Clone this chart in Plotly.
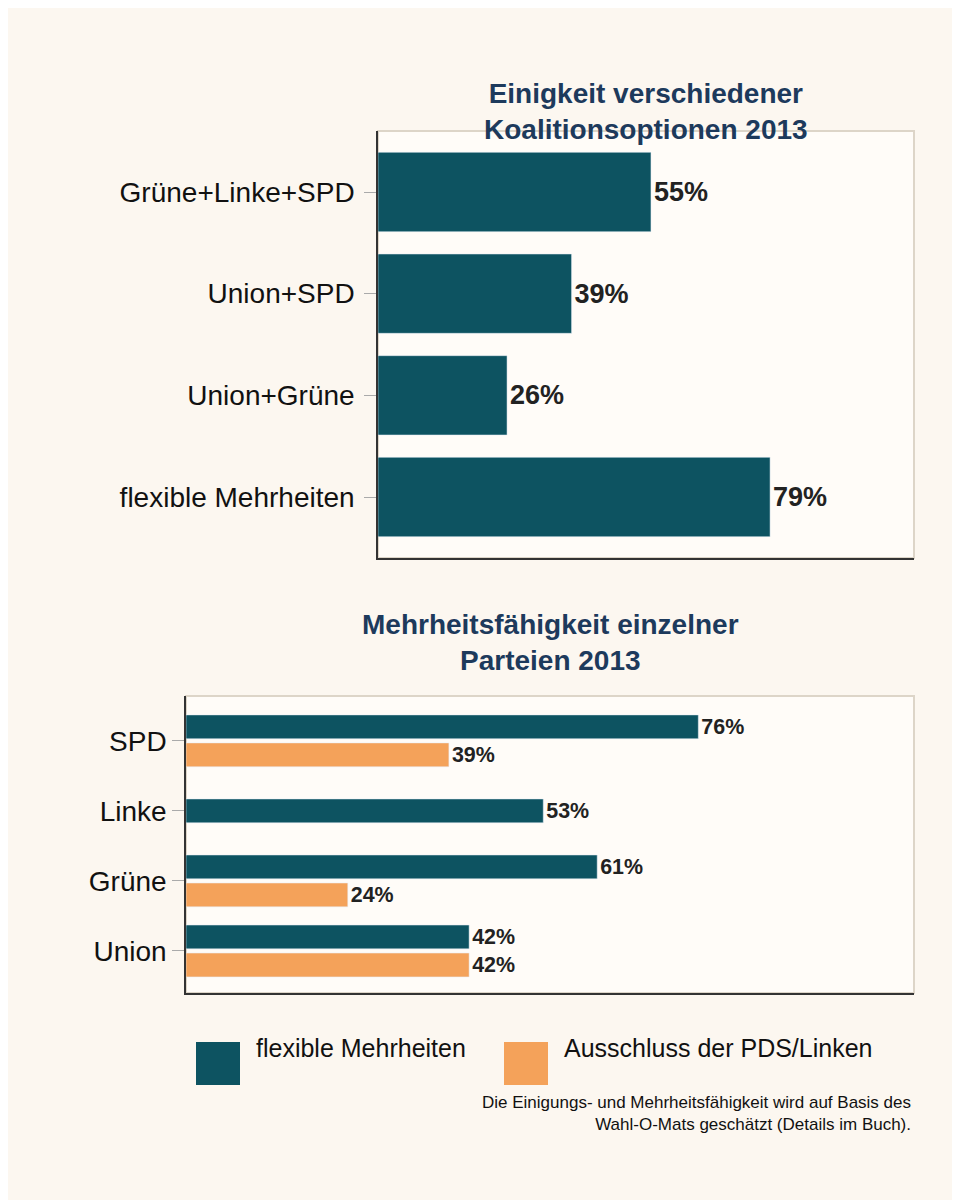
import plotly.graph_objects as go

top_cats = ["Grüne+Linke+SPD", "Union+SPD", "Union+Grüne", "flexible Mehrheiten"]
top_vals = [55, 39, 26, 79]

parties = ["Union", "Grüne", "Linke", "SPD"]
flex_vals = [42, 61, 53, 76]
excl_vals = [42, 24, None, 39]

TEAL = "#0d5361"
ORANGE = "#f4a25a"
BG = "#fcf7f0"
PLOT_BG = "#fffcf8"
FONT = "Liberation Sans, Arial, sans-serif"

fig = go.Figure()

fig.add_trace(go.Bar(
    x=top_vals, y=top_cats, orientation="h", marker_color=TEAL, width=0.78,
    text=[f"{v}%" for v in top_vals], textposition="outside",
    textfont=dict(size=27, color="#222", family=FONT, weight="bold"),
    cliponaxis=False, xaxis="x", yaxis="y", showlegend=False))

# grouped positions for bottom chart
off = 0.2
flex_y, excl_y, excl_x = [], [], []
for i, (f, e) in enumerate(zip(flex_vals, excl_vals)):
    if e is None:
        flex_y.append(i)
    else:
        flex_y.append(i + off)
        excl_y.append(i - off)
        excl_x.append(e)

fig.add_trace(go.Bar(
    x=flex_vals, y=flex_y, orientation="h", marker_color=TEAL, width=0.34,
    text=[f"{v}%" for v in flex_vals], textposition="outside",
    textfont=dict(size=27, color="#222", family=FONT, weight="bold"),
    cliponaxis=False, xaxis="x2", yaxis="y2", showlegend=False))
fig.add_trace(go.Bar(
    x=excl_x, y=excl_y, orientation="h", marker_color=ORANGE, width=0.34,
    text=[f"{v}%" for v in excl_x], textposition="outside",
    textfont=dict(size=27, color="#222", family=FONT, weight="bold"),
    cliponaxis=False, xaxis="x2", yaxis="y2", showlegend=False))

ax_common = dict(showgrid=False, zeroline=False, showticklabels=False, showline=True,
                 linecolor="#333", linewidth=1.5, range=[0, 108], fixedrange=True)
yax_common = dict(showgrid=False, zeroline=False, showline=True, linecolor="#333",
                  linewidth=1.5, ticks="outside", ticklen=12, tickcolor="#aaa",
                  tickfont=dict(size=28, color="#111", family=FONT))

fig.update_layout(
    width=960, height=1200, margin=dict(l=0, r=0, t=0, b=0),
    paper_bgcolor=BG, plot_bgcolor=PLOT_BG, barmode="overlay",
    font=dict(family=FONT),
    xaxis=dict(domain=[370/960, 906/960], anchor="y", **ax_common),
    yaxis=dict(domain=[1-550/1200, 1-123/1200], anchor="x", type="category",
               categoryorder="array", categoryarray=top_cats, range=[3.6, -0.6],
               ticklabelstandoff=4, **yax_common),
    xaxis2=dict(domain=[178/960, 906/960], anchor="y2", **ax_common),
    yaxis2=dict(domain=[1-985/1200, 1-688/1200], anchor="x2", range=[-0.6, 3.64],
                tickvals=list(range(len(parties))), ticktext=parties, **yax_common),
)

# light frame around plot areas
for x0, x1, y0, y1 in [(370, 906, 123, 550), (178, 906, 688, 985)]:
    fig.add_shape(type="rect", xref="paper", yref="paper", x0=x0/960, x1=x1/960,
                  y0=1-y1/1200, y1=1-y0/1200, line=dict(color="#ddd5c8", width=2),
                  layer="below")

title_font = dict(size=28, color="#1d3a5c", family=FONT, weight="bold")
fig.add_annotation(text="Einigkeit verschiedener<br>Koalitionsoptionen 2013", xref="paper",
                   yref="paper", x=638/960, y=1-68/1200, showarrow=False, font=title_font,
                   align="center")
fig.add_annotation(text="Mehrheitsfähigkeit einzelner<br>Parteien 2013", xref="paper",
                   yref="paper", x=542/960, y=1-634/1200, showarrow=False, font=title_font,
                   align="center")

# legend
for x0, col, label in [(188, TEAL, "flexible Mehrheiten"), (496, ORANGE, "Ausschluss der PDS/Linken")]:
    fig.add_shape(type="rect", xref="paper", yref="paper", x0=x0/960, x1=(x0+44)/960,
                  y0=1-1077/1200, y1=1-1034/1200, fillcolor=col, line=dict(width=0))
    fig.add_annotation(text=label, xref="paper", yref="paper", x=(x0+58)/960,
                       y=1-1056/1200, xanchor="left", showarrow=False,
                       font=dict(size=25, color="#111", family=FONT))

fig.add_annotation(text="Die Einigungs- und Mehrheitsfähigkeit wird auf Basis des<br>Wahl-O-Mats geschätzt (Details im Buch).",
                   xref="paper", yref="paper", x=905/960, y=1-1128/1200, xanchor="right",
                   align="right", showarrow=False, font=dict(size=17, color="#111", family=FONT))

fig.write_html("out.html")
